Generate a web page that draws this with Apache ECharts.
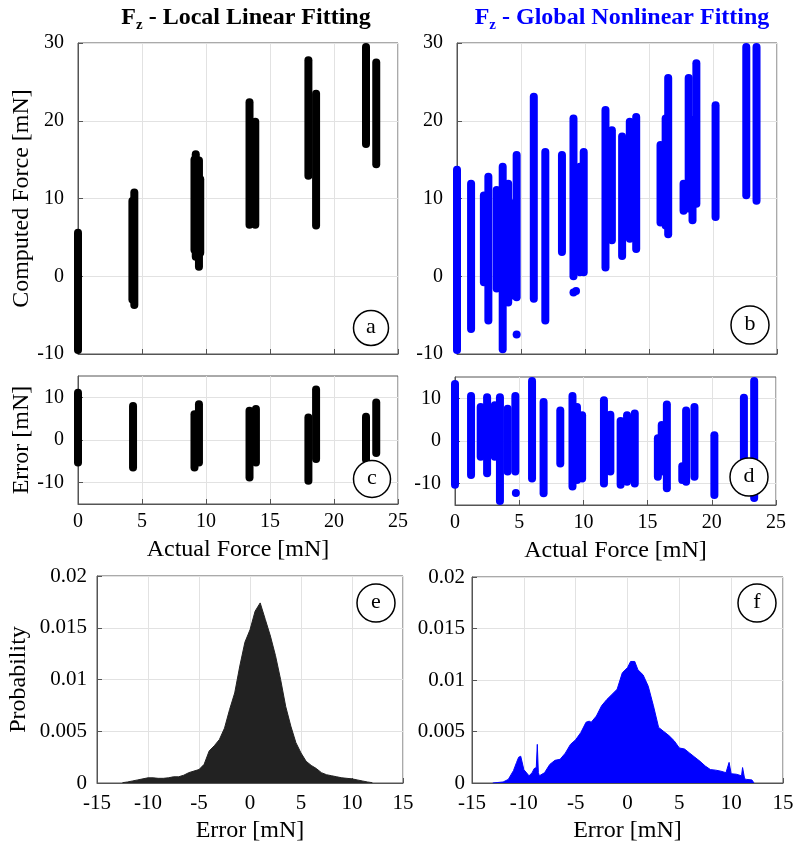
<!DOCTYPE html>
<html>
<head>
<meta charset="utf-8">
<script src="https://cdn.jsdelivr.net/npm/echarts@6/dist/echarts.min.js"></script>
<style>html,body{margin:0;padding:0;background:#fff;}#c{width:800px;height:852px;}</style>
</head>
<body>
<div id="c"></div>
<script>
// ---------- DATA ----------
// Panel a: strips [actualForce, computedMin, computedMax]
const stripsA = [
  [0.0, -10, 6.1], [4.25, -3.5, 10.2], [4.4, -4.2, 11.3],
  [9.1, 2.9, 15.5], [9.2, 2.0, 16.2], [9.45, 0.7, 15.4], [9.55, 2.5, 13.0],
  [13.4, 6.1, 22.9], [13.6, 7.0, 17.0], [13.85, 6.1, 20.4],
  [18.0, 12.4, 28.3], [18.6, 6.0, 24.0],
  [22.5, 16.5, 30.0], [23.3, 13.9, 28.0]
];
// Panel b
const stripsB = [
  [0.0, -10, 14.2], [1.1, -7.3, 12.4], [2.1, -1.3, 10.9], [2.45, -6.2, 13.3],
  [3.1, -2.1, 11.6], [3.57, -9.9, 14.6], [4.0, -3.9, 12.4], [4.4, -3.0, 9.9], [4.66, -3.2, 16.1],
  [6.0, -3.4, 23.6], [6.9, -6.2, 16.5], [8.2, 2.6, 16.1],
  [9.1, -0.5, 20.8], [9.6, 0.0, 14.6], [9.9, 0.0, 16.5],
  [11.6, 0.6, 21.9], [12.1, 4.1, 19.3],
  [12.9, 2.1, 18.5], [13.5, 4.3, 20.4], [14.0, 3.0, 21.0],
  [15.9, 6.4, 17.4], [16.3, 6.0, 20.8], [16.5, 4.9, 26.0],
  [17.7, 7.9, 12.4], [18.1, 8.2, 26.0], [18.4, 6.7, 20.6], [18.7, 8.8, 27.9],
  [20.2, 7.1, 22.5], [22.6, 9.9, 30.0], [23.4, 9.2, 30.0]
];
const dotsB = [[4.66, -7.5], [9.1, -2.1], [9.3, -1.9]];
// Panel c: error strips [actualForce, errMin, errMax]
const stripsC = [
  [0.0, -6.2, 12.0], [4.3, -7.4, 8.9],
  [9.1, -7.4, 7.0], [9.45, -6.2, 9.3],
  [13.4, -9.7, 7.8], [13.9, -6.2, 8.2],
  [18.0, -10.5, 6.2], [18.6, -5.4, 12.8],
  [22.5, -5.5, 6.4], [23.3, -4.0, 9.7]
];
// Panel d
const stripsD = [
  [0.0, -11.2, 14.3], [1.25, -8.9, 11.5], [2.0, -4.6, 8.9], [2.5, -8.5, 11.2],
  [3.1, -4.6, 9.3], [3.5, -15.0, 11.2], [4.1, -8.1, 8.5], [4.7, -8.1, 11.5],
  [6.0, -9.7, 15.0], [6.9, -13.2, 10.1], [8.2, -6.2, 8.1],
  [9.15, -11.6, 11.5], [9.5, -10.1, 8.9], [9.9, -9.7, 7.0],
  [11.6, -10.9, 10.5], [12.1, -8.1, 7.1],
  [12.9, -11.2, 5.6], [13.4, -10.5, 7.0], [14.0, -10.9, 7.4],
  [15.8, -9.3, 1.6], [16.1, -8.1, 4.7], [16.5, -12.0, 9.5],
  [17.7, -10.1, -5.0], [18.0, -10.5, 8.1], [18.65, -9.3, 8.9],
  [20.2, -13.6, 2.3], [22.5, -12.8, 11.1], [23.3, -14.3, 15.0]
];
const dotsD = [[4.74, -12.2]];
// Panel e: error histogram (bin centre, probability)
const histE = [
  [-12.5,0.00003],[-12,0.0001],[-11.5,0.0002],[-11,0.0003],[-10.5,0.0004],[-10,0.0005],
  [-9.5,0.0005],[-9,0.00045],[-8.5,0.00045],[-8,0.0005],[-7.5,0.0006],[-7,0.0006],
  [-6.5,0.00075],[-6,0.001],[-5.5,0.00115],[-5,0.0013],[-4.5,0.0018],[-4,0.0031],
  [-3.5,0.0036],[-3,0.0042],[-2.5,0.0053],[-2,0.0071],[-1.5,0.0087],[-1,0.0113],
  [-0.5,0.0136],[0,0.0148],[0.5,0.0166],[1,0.0174],[1.5,0.0158],[2,0.0142],
  [2.5,0.0123],[3,0.0100],[3.5,0.0074],[4,0.0055],[4.5,0.0039],[5,0.0029],
  [5.5,0.0021],[6,0.0017],[6.5,0.0014],[7,0.0010],[7.5,0.0008],[8,0.0007],
  [8.5,0.0006],[9,0.0005],[9.5,0.00045],[10,0.0004],[10.5,0.0003],[11,0.0002],
  [11.5,0.0001],[12,0.00003]
];
// Panel f
const histF = [
  [-13,0],[-12.5,0.00005],[-12,0.0001],[-11.5,0.00035],[-11,0.0012],[-10.7,0.002],
  [-10.5,0.0025],[-10.3,0.0026],[-10,0.0013],[-9.5,0.0007],[-9.2,0.001],[-9,0.0014],
  [-8.8,0.0015],[-8.7,0.00375],[-8.6,0.001],[-8.5,0.0007],[-8,0.001],[-7.5,0.0018],
  [-7,0.0022],[-6.5,0.0023],[-6,0.0029],[-5.5,0.00375],[-5,0.0042],[-4.5,0.0049],
  [-4,0.0059],[-3.7,0.006],[-3.5,0.0059],[-3,0.0065],[-2.5,0.0075],[-2,0.0081],
  [-1.5,0.0086],[-1,0.0091],[-0.5,0.0107],[0,0.0112],[0.3,0.0118],[0.7,0.0118],
  [1,0.011],[1.5,0.0105],[2,0.0094],[2.5,0.0075],[3,0.0054],[3.5,0.005],
  [4,0.0046],[4.5,0.0041],[5,0.0034],[5.5,0.0033],[6,0.0029],[6.5,0.0025],
  [7,0.0021],[7.5,0.00165],[8,0.0013],[8.5,0.00125],[9,0.00115],[9.5,0.001],
  [9.8,0.002],[10,0.0009],[10.5,0.00085],[11,0.0007],[11.1,0.0015],[11.3,0.0004],
  [11.5,0.00035],[12,0.0003],[12.2,0]
];
const forceTicks = [0, 5, 10, 15, 20, 25];
const errTicks = [-10, 0, 10];

// ---------- STYLE ----------
const FONT = "'Liberation Serif','Times New Roman',serif";
const BLUE = '#0000ff';
const BOX = '#555';
const GRIDC = '#e2e2e2';

function xAx(gi, showLabels, extra) {
  return Object.assign({
    type: 'value', gridIndex: gi,
    axisLine: { show: true, onZero: false, lineStyle: { color: BOX, width: 1 } },
    axisTick: { show: true, inside: true, length: 5, lineStyle: { color: BOX } },
    splitLine: { show: true, lineStyle: { color: GRIDC, width: 1 } },
    axisLabel: { show: showLabels, color: '#000', fontFamily: FONT, fontSize: 20, margin: 8 },
    nameTextStyle: { color: '#000', fontFamily: FONT, fontSize: 24 }
  }, extra);
}
function yAx(gi, extra) {
  return Object.assign({
    type: 'value', gridIndex: gi,
    axisLine: { show: true, onZero: false, lineStyle: { color: BOX, width: 1 } },
    axisTick: { show: true, inside: true, length: 5, lineStyle: { color: BOX } },
    splitLine: { show: true, lineStyle: { color: GRIDC, width: 1 } },
    axisLabel: { show: true, color: '#000', fontFamily: FONT, fontSize: 20, margin: 14 },
    nameTextStyle: { color: '#000', fontFamily: FONT, fontSize: 24 }
  }, extra);
}
function stripSeries(data, gi, color) {
  return {
    type: 'custom', xAxisIndex: gi, yAxisIndex: gi, data: data, clip: false,
    encode: { x: 0, y: [1, 2] },
    renderItem: function (params, api) {
      const lw = 8;
      const p1 = api.coord([api.value(0), api.value(1)]);
      const p2 = api.coord([api.value(0), api.value(2)]);
      let y1 = p1[1] - lw / 2, y2 = p2[1] + lw / 2;
      if (y2 > y1) { const m = (y1 + y2) / 2; y1 = m; y2 = m; }
      return {
        type: 'line',
        shape: { x1: p1[0], y1: y1, x2: p2[0], y2: y2 },
        style: { stroke: color, lineWidth: lw, lineCap: 'round' }
      };
    }
  };
}
function dotSeries(data, gi, color) {
  return { type: 'scatter', xAxisIndex: gi, yAxisIndex: gi, data: data, symbolSize: 8,
           itemStyle: { color: color, opacity: 1 }, clip: false };
}
function histSeries(data, gi, color) {
  return { type: 'line', xAxisIndex: gi, yAxisIndex: gi, data: data, symbol: 'none',
           lineStyle: { color: color, width: 1 }, areaStyle: { color: color, opacity: 1 } };
}
function circleLabel(cx, cy, r, txt) {
  return [
    { type: 'circle', z: 100, shape: { cx: cx, cy: cy, r: r },
      style: { fill: '#fff', stroke: '#000', lineWidth: 1.5 } },
    { type: 'text', z: 101, x: cx, y: cy - 1,
      style: { text: txt, font: '22px ' + FONT, fill: '#000', align: 'center', verticalAlign: 'middle' } }
  ];
}
function titleRich(color) {
  const base = { fontFamily: FONT, fontWeight: 'bold', fontSize: 24, color: color, lineHeight: 27, verticalAlign: 'top' };
  return {
    f: base,
    s: { fontFamily: FONT, fontWeight: 'bold', fontSize: 15, color: color, lineHeight: 15, padding: [14, 0, 0, 0], verticalAlign: 'bottom' },
    t: base
  };
}

const grids = [
  { left: 78, top: 43, width: 320, height: 311 },
  { left: 457, top: 43, width: 320, height: 311 },
  { left: 78, top: 376, width: 320, height: 128 },
  { left: 455, top: 377, width: 321, height: 128 },
  { left: 97, top: 576, width: 306, height: 207 },
  { left: 472, top: 577, width: 311, height: 206 }
].map(g => Object.assign({ show: true, borderColor: BOX, borderWidth: 1, backgroundColor: '#fff' }, g));

const fMin = forceTicks[0], fMax = forceTicks[forceTicks.length - 1];
const option = {
  animation: false,
  backgroundColor: '#fff',
  textStyle: { fontFamily: FONT },
  title: [
    { text: '{f|F}{s|z}{t| - Local Linear Fitting}', left: 241, top: 1, textAlign: 'center',
      textStyle: { rich: titleRich('#000') } },
    { text: '{f|F}{s|z}{t| - Global Nonlinear Fitting}', left: 617, top: 1, textAlign: 'center',
      textStyle: { rich: titleRich(BLUE) } }
  ],
  grid: grids,
  xAxis: [
    xAx(0, false, { min: fMin, max: fMax, interval: 5 }),
    xAx(1, false, { min: fMin, max: fMax, interval: 5 }),
    xAx(2, true, { min: fMin, max: fMax, interval: 5, name: 'Actual Force [mN]', nameLocation: 'middle', nameGap: 34 }),
    xAx(3, true, { min: fMin, max: fMax, interval: 5, name: 'Actual Force [mN]', nameLocation: 'middle', nameGap: 34 }),
    xAx(4, true, { min: -15, max: 15, interval: 5, name: 'Error [mN]', nameLocation: 'middle', nameGap: 36,
                   axisLabel: { show: true, color: '#000', fontFamily: FONT, fontSize: 21, margin: 10 } }),
    xAx(5, true, { min: -15, max: 15, interval: 5, name: 'Error [mN]', nameLocation: 'middle', nameGap: 36,
                   axisLabel: { show: true, color: '#000', fontFamily: FONT, fontSize: 21, margin: 10 } })
  ],
  yAxis: [
    yAx(0, { min: -10, max: 30, interval: 10, name: 'Computed Force [mN]', nameLocation: 'middle', nameGap: 44 }),
    yAx(1, { min: -10, max: 30, interval: 10 }),
    yAx(2, { min: -15, max: 15, name: 'Error [mN]', nameLocation: 'middle', nameGap: 44,
             axisTick: { show: true, inside: true, length: 5, lineStyle: { color: BOX }, customValues: errTicks },
             axisLabel: { show: true, color: '#000', fontFamily: FONT, fontSize: 20, margin: 14, customValues: errTicks } }),
    yAx(3, { min: -15, max: 15,
             axisTick: { show: true, inside: true, length: 5, lineStyle: { color: BOX }, customValues: errTicks },
             axisLabel: { show: true, color: '#000', fontFamily: FONT, fontSize: 20, margin: 14, customValues: errTicks } }),
    yAx(4, { min: 0, max: 0.02, interval: 0.005, name: 'Probability', nameLocation: 'middle', nameGap: 66,
             axisLabel: { show: true, color: '#000', fontFamily: FONT, fontSize: 21, margin: 10 } }),
    yAx(5, { min: 0, max: 0.02, interval: 0.005,
             axisLabel: { show: true, color: '#000', fontFamily: FONT, fontSize: 21, margin: 7 } })
  ],
  series: [
    stripSeries(stripsA, 0, '#000'),
    stripSeries(stripsB, 1, BLUE),
    dotSeries(dotsB, 1, BLUE),
    stripSeries(stripsC, 2, '#000'),
    stripSeries(stripsD, 3, BLUE),
    dotSeries(dotsD, 3, BLUE),
    histSeries(histE, 4, '#222'),
    histSeries(histF, 5, BLUE)
  ],
  graphic: [].concat(
    circleLabel(371, 328, 17.5, 'a'),
    circleLabel(750, 325, 19, 'b'),
    circleLabel(372, 479, 18.5, 'c'),
    circleLabel(749, 477, 19, 'd'),
    circleLabel(376, 603, 19, 'e'),
    circleLabel(757, 603, 19, 'f')
  )
};
const chart = echarts.init(document.getElementById('c'), null, { renderer: 'canvas' });
chart.setOption(option);
</script>
</body>
</html>
